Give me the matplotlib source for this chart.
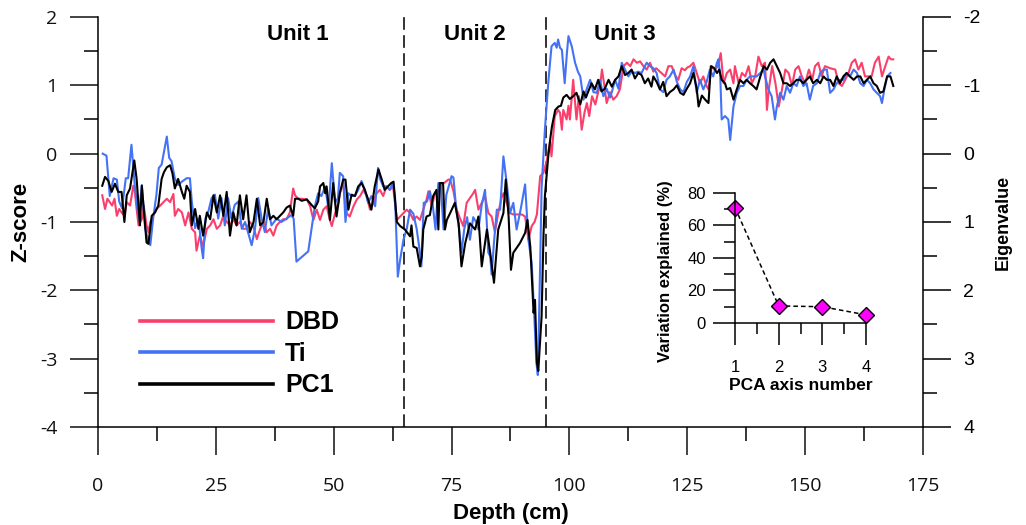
import matplotlib
matplotlib.use("Agg")  # no display in the sandbox
import matplotlib.pyplot as plt
from matplotlib.ticker import MultipleLocator

plt.rcParams["font.family"] = ["Liberation Sans", "DejaVu Sans"]
plt.rcParams["axes.unicode_minus"] = False

# ------------------------------------------------------------------------------
#   DATA
# ------------------------------------------------------------------------------
# Dry bulk density (z-score)
dbd_depth = [
    0.9, 1.5, 2.0, 2.5, 3.0, 3.5, 4.0, 4.5, 5.0, 5.6,
    6.1, 6.8, 7.5, 7.8, 8.2, 8.6, 9.3, 9.7, 10.3, 10.7,
    11.1, 11.7, 12.4, 13.2, 13.9, 14.6, 15.3, 16.0, 16.3, 17.0,
    17.8, 18.5, 19.2, 19.9, 20.6, 20.9, 21.6, 22.3, 23.1, 23.8,
    24.5, 25.2, 25.9, 26.6, 27.3, 28.0, 28.7, 29.4, 30.1, 30.8,
    31.5, 32.2, 32.9, 33.7, 34.4, 35.1, 35.8, 36.5, 37.2, 37.9,
    38.6, 39.3, 40.0, 40.7, 41.4, 41.8, 42.5, 43.2, 44.3, 45.0,
    45.7, 46.4, 47.1, 47.8, 48.5, 49.2, 49.6, 50.3, 51.0, 51.3,
    52.0, 52.7, 53.4, 54.2, 54.9, 55.6, 56.3, 57.0, 57.7, 58.4,
    59.1, 59.8, 60.5, 61.2, 61.9, 62.6, 63.4, 64.1, 64.8, 65.5,
    66.2, 66.9, 67.6, 68.3, 69.0, 69.7, 70.1, 70.8, 71.5, 72.2,
    72.9, 73.6, 74.3, 74.7, 75.4, 76.1, 76.8, 77.5, 78.2, 78.9,
    79.6, 80.0, 80.7, 81.4, 82.1, 82.8, 83.5, 84.2, 84.9, 85.6,
    86.0, 86.7, 87.4, 88.1, 89.9, 90.6, 91.3, 92.0, 92.6, 93.1,
    93.8, 94.5, 95.2, 95.9, 96.2, 96.9, 97.6, 98.0, 98.4, 98.7,
    99.4, 99.8, 100.1, 100.8, 101.5, 102.0, 102.6, 103.2, 103.7, 104.2,
    104.8, 105.5, 106.1, 106.5, 106.9, 107.4, 107.9, 108.6, 109.3, 110.0,
    110.7, 111.5, 112.2, 112.9, 113.6, 114.3, 115.0, 115.7, 116.4, 117.1,
    117.8, 118.4, 119.2, 120.3, 121.0, 121.7, 122.4, 123.1, 123.8, 124.5,
    125.0, 125.6, 126.3, 127.0, 127.7, 128.4, 129.1, 129.5, 130.2, 130.9,
    131.5, 132.1, 132.7, 133.4, 134.1, 134.8, 135.1, 135.9, 136.6, 137.3,
    138.0, 138.7, 139.4, 140.1, 140.8, 141.5, 141.9, 142.3, 143.0, 143.7,
    144.4, 145.1, 145.8, 146.5, 147.2, 147.9, 148.6, 149.3, 150.0, 150.8,
    151.5, 152.1, 152.8, 153.5, 154.2, 155.3, 156.4, 157.1, 157.8, 158.5,
    159.2, 159.9, 160.6, 161.3, 162.0, 162.7, 163.4, 164.1, 164.8, 165.6,
    166.3, 167.0, 167.7, 168.2, 168.7,
]
dbd = [
    -0.61, -0.81, -0.66, -0.71, -0.76, -0.66, -0.91, -0.81, -0.86, -0.91,
    -0.71, -0.76, -0.47, -0.55, -0.81, -1.05, -0.96, -0.76, -1.05, -1.15,
    -1.00, -0.91, -0.81, -0.76, -0.71, -0.66, -0.71, -0.59, -0.91, -0.81,
    -0.86, -1.05, -0.86, -1.10, -1.15, -1.42, -1.20, -1.35, -1.10, -1.05,
    -0.96, -1.10, -1.05, -0.91, -1.00, -1.05, -0.96, -1.05, -1.00, -1.10,
    -1.10, -1.00, -1.05, -1.25, -1.10, -1.00, -1.15, -1.10, -1.20, -1.05,
    -1.00, -0.96, -0.96, -0.86, -0.51, -0.61, -0.66, -0.66, -0.67, -0.77,
    -0.97, -0.82, -0.97, -0.82, -0.77, -0.97, -1.06, -0.87, -0.72, -0.58,
    -0.43, -0.87, -0.92, -0.77, -0.67, -0.62, -0.53, -0.62, -0.82, -0.72,
    -0.58, -0.53, -0.62, -0.48, -0.53, -0.48, -0.97, -0.92, -0.87, -0.82,
    -0.87, -0.97, -0.92, -0.97, -0.82, -0.67, -0.55, -0.77, -0.58, -0.55,
    -0.45, -0.42, -0.38, -0.38, -0.55, -0.82, -0.95, -1.06, -0.72, -0.65,
    -0.58, -0.53, -0.82, -0.72, -0.62, -0.87, -0.92, -1.15, -0.87, -0.65,
    -0.58, -0.72, -0.87, -0.89, -0.89, -0.92, -1.26, -1.06, -1.00, -0.89,
    -0.33, -0.28, -0.10, 0.18, -0.04, 0.55, 0.64, 0.60, 0.35, 0.64,
    0.50, 0.70, 0.50, 1.08, 0.50, 0.84, 0.35, 0.60, 0.74, 0.55,
    0.84, 0.72, 0.90, 0.99, 1.23, 1.00, 0.74, 0.90, 0.79, 0.84,
    0.94, 1.28, 1.33, 1.28, 1.38, 1.33, 1.35, 1.28, 1.23, 1.33,
    1.20, 1.25, 1.20, 1.13, 1.28, 1.28, 1.15, 1.08, 1.25, 1.22,
    1.26, 1.28, 1.33, 1.18, 1.03, 1.13, 0.99, 0.94, 1.28, 1.23,
    1.28, 1.47, 1.03, 1.18, 1.23, 1.03, 1.28, 1.03, 1.18, 1.13,
    1.28, 1.03, 1.13, 1.42, 1.28, 1.33, 0.64, 0.94, 1.28, 1.03,
    0.69, 0.94, 1.23, 1.18, 0.99, 1.23, 1.28, 1.13, 1.03, 1.23,
    1.08, 1.28, 1.33, 1.13, 1.28, 1.25, 1.23, 1.03, 0.99, 1.08,
    1.18, 1.33, 1.38, 1.23, 1.33, 1.13, 1.13, 1.13, 1.33, 1.42,
    1.13, 1.28, 1.42, 1.38, 1.38,
]

# Titanium (z-score)
ti_depth = [
    1.0, 1.8, 2.5, 3.3, 4.0, 4.5, 5.1, 5.9, 6.4, 7.1,
    7.8, 8.6, 9.3, 10.0, 10.7, 11.1, 11.7, 12.4, 12.9, 13.5,
    14.0, 14.6, 15.1, 15.6, 16.3, 17.0, 17.8, 18.8, 19.5, 19.9,
    20.6, 21.3, 22.0, 22.3, 22.8, 23.4, 24.1, 24.8, 25.5, 26.2,
    26.9, 27.6, 28.3, 29.0, 29.8, 30.5, 31.2, 32.6, 33.3, 34.0,
    34.7, 35.4, 36.1, 36.8, 37.9, 38.9, 40.0, 41.0, 41.5, 42.1,
    44.6, 46.0, 46.7, 47.4, 48.2, 48.9, 49.6, 50.3, 50.9, 51.3,
    52.0, 52.5, 53.1, 53.8, 54.5, 55.2, 55.9, 56.6, 57.3, 58.0,
    58.8, 59.4, 59.9, 60.5, 61.2, 61.9, 62.5, 63.0, 63.6, 64.1,
    64.8, 65.5, 66.2, 66.9, 67.6, 68.2, 68.6, 69.1, 69.8, 70.4,
    71.0, 71.6, 72.2, 72.7, 73.3, 73.9, 74.5, 75.0, 75.4, 76.0,
    76.6, 77.1, 77.7, 78.3, 78.9, 79.6, 80.2, 80.7, 81.4, 82.1,
    82.8, 83.2, 83.5, 84.0, 84.6, 85.3, 86.0, 86.7, 87.4, 88.1,
    88.8, 89.7, 90.6, 91.3, 92.0, 92.5, 93.0, 93.3, 93.8, 94.1,
    94.5, 94.8, 95.5, 96.2, 96.6, 96.9, 97.3, 97.6, 98.0, 98.4,
    99.0, 99.5, 99.8, 100.5, 101.2, 101.8, 102.3, 103.0, 103.7, 104.4,
    105.1, 105.8, 106.5, 107.2, 107.9, 108.6, 109.0, 109.7, 110.4, 111.1,
    111.8, 112.5, 113.2, 113.9, 114.6, 115.3, 116.0, 116.4, 117.1, 117.8,
    118.5, 119.2, 119.9, 120.6, 121.3, 122.1, 122.8, 123.5, 124.2, 124.9,
    125.6, 126.3, 127.0, 127.7, 128.4, 129.1, 129.8, 130.5, 131.3, 131.6,
    132.0, 132.3, 133.0, 133.7, 134.1, 134.8, 135.5, 136.2, 136.9, 137.6,
    138.3, 139.0, 139.7, 140.5, 141.2, 141.5, 142.2, 142.9, 143.6, 144.0,
    144.7, 145.4, 146.1, 146.8, 147.5, 148.2, 148.9, 149.6, 150.3, 151.0,
    151.7, 152.5, 153.2, 153.9, 154.6, 155.3, 156.0, 156.7, 157.4, 158.1,
    158.8, 159.5, 160.3, 161.0, 161.7, 162.4, 163.1, 163.8, 164.5, 165.2,
    165.9, 166.3, 166.8, 167.4, 168.1,
]
ti = [
    0.00, -0.03, -0.62, -0.36, -0.38, -0.70, -0.80, -0.36, -0.36, 0.13,
    -0.46, -0.95, -0.46, -1.09, -1.29, -1.34, -0.95, -0.60, -0.21, -0.16,
    0.03, 0.25, -0.06, -0.11, -0.36, -0.46, -0.41, -0.36, -0.36, -0.70,
    -1.09, -0.95, -1.39, -1.53, -0.95, -0.85, -0.65, -0.60, -0.95, -0.65,
    -1.05, -0.65, -0.95, -0.75, -0.70, -1.10, -1.00, -1.34, -1.10, -0.65,
    -0.95, -1.15, -0.80, -1.05, -0.95, -1.00, -0.95, -0.90, -0.95, -1.58,
    -1.43, -0.77, -0.58, -0.62, -0.48, -0.82, -0.14, -0.72, -0.65, -0.28,
    -0.33, -1.00, -0.58, -0.62, -0.62, -0.53, -0.40, -0.53, -0.72, -0.62,
    -0.77, -0.21, -0.38, -0.48, -0.48, -0.53, -0.43, -0.62, -1.80, -1.55,
    -1.26, -1.10, -0.82, -0.88, -1.10, -1.40, -1.65, -0.72, -0.70, -0.55,
    -0.75, -1.11, -0.43, -0.45, -1.11, -0.60, -0.45, -0.33, -0.35, -0.82,
    -1.10, -1.45, -1.10, -0.93, -1.26, -0.93, -1.00, -1.11, -0.75, -0.53,
    -1.45, -1.50, -1.77, -1.30, -0.82, -0.82, -0.04, -0.43, -0.87, -0.72,
    -1.11, -0.80, -0.45, -1.26, -1.60, -2.30, -3.06, -3.24, -1.60, -0.50,
    0.00, 0.35, 1.03, 1.57, 1.60, 1.62, 1.55, 1.67, 1.55, 1.52,
    1.03, 1.50, 1.72, 1.57, 1.33, 1.20, 1.13, 0.79, 0.95, 1.08,
    0.90, 0.89, 1.08, 0.84, 0.95, 0.82, 0.90, 1.08, 0.95, 1.33,
    1.23, 1.13, 1.20, 1.18, 1.20, 1.18, 1.28, 1.33, 1.28, 1.25,
    1.18, 0.94, 0.90, 1.08, 1.13, 1.23, 1.05, 0.94, 0.90, 1.05,
    1.13, 1.28, 0.89, 1.08, 0.94, 1.05, 1.23, 1.13, 1.33, 1.38,
    1.13, 0.50, 0.55, 0.50, 0.20, 0.69, 0.89, 0.99, 0.99, 1.08,
    1.13, 1.13, 1.13, 1.18, 1.23, 1.13, 0.94, 0.84, 0.50, 0.69,
    0.89, 0.79, 0.99, 0.89, 1.03, 0.99, 1.13, 0.99, 1.03, 0.79,
    0.99, 1.03, 1.18, 1.23, 1.23, 0.89, 0.94, 1.03, 1.08, 1.08,
    1.18, 1.13, 1.23, 1.18, 1.03, 0.99, 1.08, 1.03, 0.94, 0.89,
    0.84, 0.74, 0.94, 1.13, 1.18,
]

# First principal component (z-score)
pc1_depth = [
    0.9, 1.5, 2.2, 2.9, 3.6, 4.3, 5.0, 5.6, 6.1, 6.8,
    7.7, 8.2, 8.9, 9.3, 10.0, 10.3, 10.7, 11.4, 12.1, 12.8,
    13.5, 14.0, 14.6, 15.3, 15.8, 16.3, 17.0, 17.8, 18.3, 18.8,
    19.5, 19.9, 20.6, 21.3, 21.6, 22.3, 23.1, 23.8, 24.5, 25.2,
    25.9, 26.6, 27.3, 28.0, 28.7, 29.4, 30.1, 30.8, 31.5, 32.2,
    33.0, 33.7, 34.4, 35.1, 35.8, 36.5, 37.2, 37.9, 38.6, 39.3,
    40.0, 40.7, 41.4, 41.8, 42.5, 43.2, 44.3, 45.3, 46.0, 46.7,
    47.1, 47.8, 48.2, 48.5, 49.2, 49.9, 50.6, 51.3, 52.0, 52.5,
    53.1, 53.8, 54.5, 55.2, 55.9, 56.6, 57.3, 58.0, 58.7, 59.5,
    60.2, 60.5, 60.8, 61.5, 62.2, 62.7, 63.4, 64.1, 65.1, 66.2,
    66.5, 66.9, 67.6, 68.3, 68.7, 69.0, 69.7, 70.4, 71.1, 71.8,
    72.2, 72.5, 73.2, 73.6, 74.0, 74.7, 75.7, 76.5, 77.1, 77.9,
    78.9, 80.0, 80.7, 81.4, 82.5, 83.2, 84.0, 84.9, 86.0, 86.5,
    87.1, 87.6, 88.1, 89.5, 90.6, 91.1, 91.7, 92.4, 92.7, 93.1,
    93.4, 94.1, 94.5, 94.8, 95.5, 96.0, 96.3, 97.0, 97.7, 98.2,
    98.7, 99.4, 100.1, 100.8, 101.5, 102.3, 103.0, 103.5, 104.0, 104.7,
    105.4, 106.1, 106.8, 107.5, 108.3, 109.0, 109.7, 110.4, 111.1, 111.8,
    112.5, 113.2, 113.9, 114.6, 115.3, 116.0, 116.7, 117.4, 117.8, 118.5,
    119.2, 119.9, 120.6, 121.3, 122.1, 122.8, 123.5, 124.2, 124.9, 125.6,
    126.3, 127.0, 127.4, 128.1, 128.8, 129.5, 130.0, 130.7, 131.3, 131.8,
    132.3, 133.0, 133.4, 134.1, 134.8, 135.5, 136.2, 136.9, 137.6, 138.3,
    139.0, 139.7, 140.5, 141.2, 141.9, 142.6, 143.3, 144.0, 144.7, 145.4,
    146.1, 146.8, 147.5, 148.2, 148.9, 149.6, 150.3, 151.0, 151.7, 152.5,
    153.2, 153.9, 154.6, 155.3, 156.0, 156.7, 157.4, 158.1, 158.8, 159.5,
    160.3, 161.0, 161.7, 162.4, 163.1, 163.8, 164.5, 165.2, 165.9, 166.6,
    167.4, 168.1, 168.7,
]
pc1 = [
    -0.47, -0.34, -0.40, -0.56, -0.44, -0.56, -0.56, -1.00, -0.61, -0.51,
    -0.10, -0.37, -1.05, -0.47, -1.05, -1.30, -1.32, -0.91, -0.86, -0.76,
    -0.37, -0.27, -0.20, -0.17, -0.29, -0.51, -0.37, -0.56, -0.66, -0.47,
    -0.56, -1.05, -0.81, -1.10, -0.91, -1.20, -0.86, -0.96, -0.61, -0.86,
    -0.61, -0.91, -0.56, -1.20, -0.86, -1.05, -0.61, -0.96, -0.61, -1.15,
    -1.00, -0.66, -1.05, -1.00, -0.66, -0.96, -0.91, -0.96, -0.91, -0.86,
    -0.79, -0.76, -0.91, -0.66, -0.66, -0.69, -0.67, -0.75, -0.80, -0.70,
    -0.48, -0.43, -0.58, -0.48, -0.97, -0.43, -0.92, -0.58, -0.38, -0.38,
    -0.82, -0.60, -0.62, -0.48, -0.43, -0.53, -0.67, -0.82, -0.48, -0.23,
    -0.38, -0.45, -0.53, -0.48, -0.43, -0.41, -1.00, -1.06, -1.11, -1.21,
    -1.05, -1.36, -1.38, -1.65, -1.50, -1.11, -0.92, -0.90, -0.62, -0.53,
    -1.11, -0.43, -0.43, -1.11, -0.97, -0.87, -0.72, -1.02, -1.65, -1.31,
    -1.02, -1.11, -0.92, -1.65, -1.11, -1.45, -1.89, -1.11, -0.87, -0.38,
    -0.92, -1.70, -1.45, -1.31, -1.16, -0.97, -1.36, -2.33, -2.14, -3.06,
    -3.18, -2.38, -1.20, -0.62, -0.05, 0.25, 0.40, 0.64, 0.69, 0.70,
    0.82, 0.86, 0.80, 0.84, 0.89, 0.72, 0.91, 0.82, 0.91, 1.03,
    0.94, 1.08, 0.91, 0.95, 1.08, 0.98, 1.08, 1.13, 1.28, 1.15,
    1.18, 1.23, 1.10, 1.18, 1.15, 1.03, 1.10, 0.98, 1.13, 1.05,
    0.94, 1.05, 0.84, 0.90, 0.94, 1.00, 0.89, 0.86, 0.95, 1.03,
    1.18, 0.95, 0.69, 0.85, 0.79, 0.74, 1.28, 1.25, 1.18, 1.23,
    1.08, 1.03, 0.94, 0.96, 0.79, 0.94, 1.08, 1.03, 1.08, 1.03,
    0.99, 0.94, 1.13, 1.28, 1.23, 1.33, 1.38, 1.28, 1.18, 1.03,
    1.03, 0.99, 1.03, 1.08, 1.08, 1.03, 1.08, 1.13, 1.03, 1.08,
    1.03, 1.13, 1.08, 1.08, 0.99, 1.13, 1.03, 1.13, 1.18, 1.13,
    1.08, 1.13, 1.13, 1.03, 1.08, 1.13, 1.03, 0.99, 0.89, 0.91,
    1.13, 1.13, 0.99,
]

unit_bounds = [65, 95]
unit_names = ["Unit 1", "Unit 2", "Unit 3"]
unit_label_x = [42.4, 80.0, 111.8]

# Scree plot of the PCA
pca_axis = [1, 2, 3, 4]
variation = [71, 10.5, 10, 5]

colors = {
    "DBD": "#fb3f6c",
    "Ti":  "#4472f5",
    "PC1": "#000000",
}

# ------------------------------------------------------------------------------
#   MAIN PANEL
# ------------------------------------------------------------------------------
fig = plt.figure(figsize=(10.26, 5.25), dpi=100)
ax = fig.add_axes([0.0955, 0.1867, 0.8041, 0.781])

ax.plot(dbd_depth, dbd, color=colors["DBD"], lw=1.5, label="DBD")
ax.plot(ti_depth, ti, color=colors["Ti"], lw=1.5, label="Ti")
ax.plot(pc1_depth, pc1, color=colors["PC1"], lw=1.5, label="PC1")

for d in unit_bounds:
    ax.axvline(d, color="#222222", lw=1.3, dashes=(7, 3), zorder=1)
for name, xpos in zip(unit_names, unit_label_x):
    ax.text(xpos, 1.74, name, ha="center", va="center",
            fontsize=16, fontweight="bold")

ax.set_xlim(0, 175)
ax.set_ylim(-4, 2)
ax.xaxis.set_major_locator(MultipleLocator(25))
ax.xaxis.set_minor_locator(MultipleLocator(12.5))
ax.yaxis.set_major_locator(MultipleLocator(1))
ax.yaxis.set_minor_locator(MultipleLocator(0.5))
ax.spines["top"].set_visible(False)
ax.spines["right"].set_visible(False)
for s in ["left", "bottom"]:
    ax.spines[s].set_linewidth(1.1)
ax.tick_params(which="major", direction="out", length=20, width=1.1,
               labelsize=14, colors="#111111")
ax.tick_params(which="minor", direction="out", length=10, width=1.1)
ax.tick_params(axis="x", pad=16)
ax.tick_params(axis="y", pad=9)
for lab in ax.get_xticklabels() + ax.get_yticklabels():
    lab.set_family("Open Sans")
ax.set_xlabel("Depth (cm)", fontsize=16, fontweight="bold", labelpad=6)
ax.set_ylabel("Z-score", fontsize=16, fontweight="bold", labelpad=6)

leg = ax.legend(loc="center left", bbox_to_anchor=(0.051, 0.178),
                frameon=False, prop={"weight": "bold", "size": 18},
                handlelength=5.3, handletextpad=0.5, labelspacing=0.3,
                borderpad=0, borderaxespad=0)
for line in leg.get_lines():
    line.set_linewidth(2.6)

# right-hand eigenvalue axis (inverted)
ax2 = ax.twinx()
ax2.set_ylim(4, -2)
ax2.yaxis.set_major_locator(MultipleLocator(1))
ax2.yaxis.set_minor_locator(MultipleLocator(0.5))
for s in ["top", "left", "bottom"]:
    ax2.spines[s].set_visible(False)
ax2.spines["right"].set_linewidth(1.1)
ax2.tick_params(which="major", direction="out", length=20, width=1.1,
                labelsize=14, pad=9)
ax2.tick_params(which="minor", direction="out", length=10, width=1.1)
ax2.set_ylabel("Eigenvalue", fontsize=13, fontweight="bold", labelpad=10)

# ------------------------------------------------------------------------------
#   INSET: variance explained by each PCA axis
# ------------------------------------------------------------------------------
ins = fig.add_axes([0.7164, 0.3848, 0.1277, 0.2476])
ins.patch.set_alpha(0)
ins.plot(pca_axis, variation, color="black", lw=1.1, ls=(0, (3, 2)),
         marker="D", ms=8, mfc="#ff00ff", mec="black", mew=1.0, clip_on=False)
ins.set_xlim(1, 4)
ins.set_ylim(0, 80)
ins.xaxis.set_major_locator(MultipleLocator(1))
ins.xaxis.set_minor_locator(MultipleLocator(0.5))
ins.yaxis.set_major_locator(MultipleLocator(20))
ins.yaxis.set_minor_locator(MultipleLocator(10))
ins.spines["top"].set_visible(False)
ins.spines["right"].set_visible(False)
for s in ["left", "bottom"]:
    ins.spines[s].set_linewidth(1.1)
ins.tick_params(which="major", direction="out", length=16, width=1.1,
                labelsize=12, pad=5)
ins.tick_params(axis="x", pad=11)
ins.tick_params(which="minor", direction="out", length=8, width=1.1)
ins.set_xlabel("PCA axis number", fontsize=12.5, fontweight="bold", labelpad=2)
ins.set_ylabel("Variation explained (%)", fontsize=12, fontweight="bold")
ins.yaxis.set_label_coords(-0.47, 0.4)

fig.savefig("out.png", dpi=100)
plt.close(fig)
